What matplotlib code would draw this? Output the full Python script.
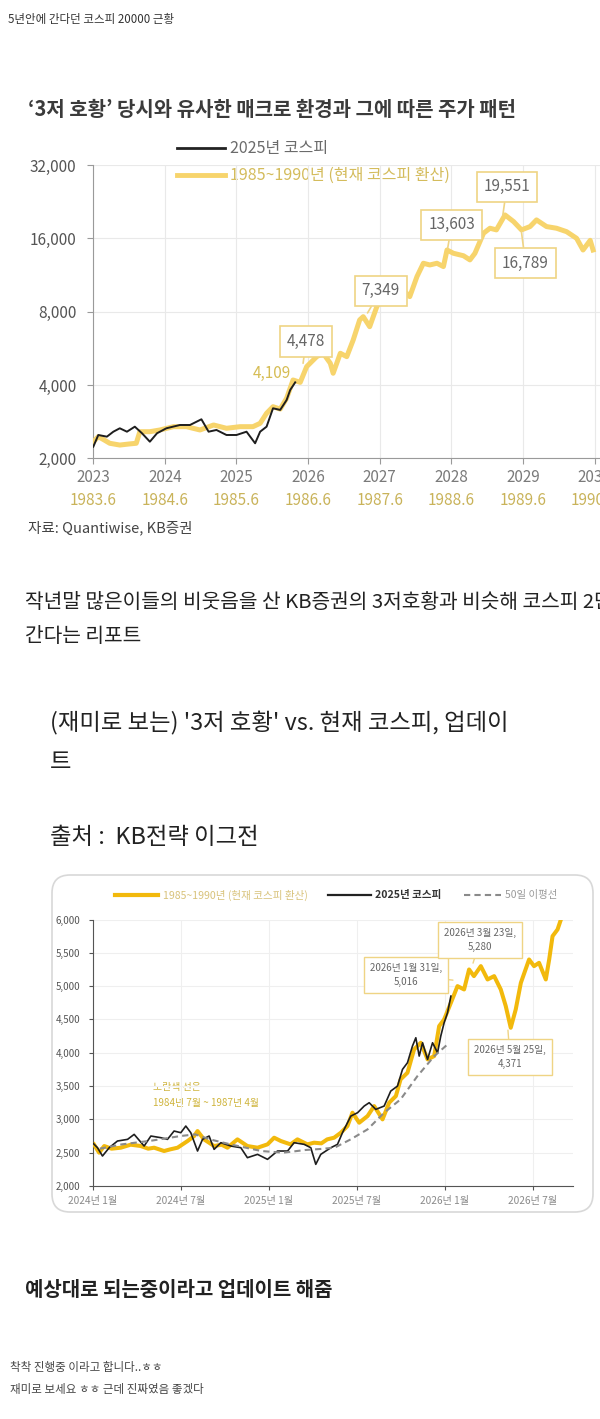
import matplotlib
matplotlib.use("Agg")
import matplotlib.pyplot as plt
from matplotlib.patches import FancyBboxPatch

plt.rcParams['font.family'] = ['Noto Sans CJK KR', 'DejaVu Sans']

W, H = 600, 1419

# ---- chart 1: KB report, log scale, 2023~2030 ----
c1_yellow_x = [2023.00, 2023.07, 2023.15, 2023.23, 2023.37, 2023.50, 2023.60, 2023.65,
               2023.79, 2023.93, 2024.12, 2024.30, 2024.49, 2024.68, 2024.86, 2025.05,
               2025.23, 2025.33, 2025.42, 2025.51, 2025.61, 2025.70, 2025.79, 2025.89,
               2025.98, 2026.12, 2026.21, 2026.31, 2026.35, 2026.45, 2026.54, 2026.63,
               2026.72, 2026.77, 2026.86, 2026.96, 2027.05, 2027.19, 2027.33, 2027.42,
               2027.52, 2027.61, 2027.70, 2027.80, 2027.89, 2027.94, 2028.03, 2028.17,
               2028.26, 2028.33, 2028.45, 2028.54, 2028.63, 2028.75, 2028.87, 2028.98,
               2029.10, 2029.19, 2029.33, 2029.47, 2029.61, 2029.75, 2029.84, 2029.94,
               2029.98]
c1_yellow_y = [2340, 2454, 2380, 2305, 2267, 2290, 2305, 2572,
               2572, 2614, 2697, 2697, 2614, 2740, 2656, 2697,
               2697, 2784, 3061, 3258, 3185, 3528, 4193, 4100,
               4757, 5228, 5398, 4911, 4469, 5398, 5228, 6122,
               7396, 7630, 6940, 8388, 9223, 9821, 9821, 9223,
               11137, 12640, 12440, 12640, 12250, 14330, 13890, 13570,
               13050, 13890, 16790, 17600, 17330, 19960, 18740, 17330,
               17880, 19040, 17880, 17600, 17040, 16000, 14330, 15700,
               14330]
c1_black_x = [2023.00, 2023.07, 2023.19, 2023.28, 2023.37, 2023.47, 2023.58, 2023.68,
              2023.79, 2023.89, 2024.02, 2024.21, 2024.35, 2024.51, 2024.61, 2024.72,
              2024.86, 2025.00, 2025.14, 2025.26, 2025.33, 2025.42, 2025.51, 2025.61,
              2025.70, 2025.75, 2025.82]
c1_black_y = [2232, 2493, 2454, 2572, 2656, 2572, 2697, 2534,
              2340, 2534, 2656, 2740, 2740, 2892, 2572, 2614,
              2493, 2493, 2572, 2305, 2572, 2697, 3209, 3160,
              3470, 3816, 4100]
c1_yticks = [2000, 4000, 8000, 16000, 32000]
c1_xticks = [2023, 2024, 2025, 2026, 2027, 2028, 2029, 2030]
c1_xticks_old = ['1983.6', '1984.6', '1985.6', '1986.6', '1987.6', '1988.6', '1989.6', '1990.6']
c1_ann_labels = ['4,478', '7,349', '13,603', '19,551', '16,789']
c1_ann_x = [2025.93, 2026.83, 2027.95, 2028.72, 2028.98]
c1_ann_y = [4911, 7903, 14610, 19960, 16990]

# ---- chart 2: KB update, linear, months since 2024-01 ----
c2_yellow_m = [0.1, 0.45, 0.8, 1.3, 1.93, 2.6, 3.29, 3.8, 4.2, 4.88, 5.3, 5.8, 6.48, 6.93,
               7.16, 7.6, 8.29, 8.8, 9.2, 9.88, 10.56, 11.25, 11.93, 12.38, 12.84, 13.5,
               13.97, 14.65, 15.1, 15.6, 16.0, 16.47, 16.93, 17.38, 17.72, 18.18, 18.75,
               19.2, 19.77, 20.22, 20.68, 21.0, 21.47, 21.92, 22.38, 22.84, 23.29, 23.63,
               23.97, 24.43, 24.88, 25.33, 25.67, 26.0, 26.47, 26.93, 27.38, 27.83, 28.17,
               28.51, 28.85, 29.2, 29.76, 30.1, 30.44, 30.9, 31.13, 31.36, 31.7, 31.93]
c2_yellow_v = [2625, 2500, 2600, 2560, 2575, 2620, 2600, 2560, 2575, 2525, 2550, 2575, 2675, 2750,
               2825, 2700, 2600, 2620, 2575, 2700, 2600, 2575, 2625, 2725, 2675, 2625,
               2700, 2625, 2650, 2640, 2700, 2725, 2800, 2900, 3100, 2950, 3050,
               3200, 3000, 3250, 3350, 3600, 3700, 4050, 4150, 3900, 3950, 4400,
               4500, 4750, 5000, 4950, 5250, 5150, 5300, 5100, 5150, 4950, 4700,
               4375, 4650, 5050, 5400, 5300, 5350, 5100, 5400, 5750, 5850, 6000]
c2_black_m = [0, 0.34, 0.68, 1.14, 1.7, 2.39, 2.84, 3.52, 3.98, 4.66, 5.11, 5.56, 6.02, 6.36,
              6.7, 7.16, 7.5, 7.95, 8.29, 8.75, 9.43, 10.11, 10.56, 11.25, 11.93, 12.61,
              13.3, 13.74, 14.43, 14.88, 15.22, 15.56, 16.25, 16.7, 17.04, 17.61, 18.07,
              18.52, 18.86, 19.31, 19.88, 20.33, 20.79, 21.13, 21.47, 21.81, 22.04, 22.27,
              22.5, 22.84, 23.18, 23.52, 23.74, 23.97, 24.2, 24.43]
c2_black_v = [2650, 2575, 2450, 2575, 2675, 2700, 2775, 2600, 2750, 2725, 2700, 2825, 2800, 2900,
              2800, 2525, 2700, 2750, 2550, 2650, 2600, 2575, 2425, 2475, 2400, 2525,
              2525, 2650, 2625, 2575, 2325, 2475, 2575, 2625, 2800, 3050, 3100,
              3200, 3250, 3150, 3200, 3425, 3500, 3750, 3850, 4100, 4225, 3950,
              4150, 3900, 4150, 4000, 4250, 4450, 4600, 4850]
c2_ma_m = [0.5, 2, 4, 6, 7, 8, 9.5, 11.5, 13, 14.5, 15.5, 16.5, 17.6, 18.75, 19.88, 21,
           22.15, 23.3, 24.2]
c2_ma_v = [2560, 2625, 2680, 2750, 2775, 2700, 2620, 2525, 2500, 2540, 2555, 2575, 2700,
           2850, 3100, 3300, 3650, 3950, 4125]
c2_yticks = [2000, 2500, 3000, 3500, 4000, 4500, 5000, 5500, 6000]
c2_xticks = [0, 6, 12, 18, 24, 30]
c2_xlabels = ['2024년 1월', '2024년 7월', '2025년 1월', '2025년 7월', '2026년 1월', '2026년 7월']
c2_ann_labels = ['2026년 1월 31일,\n5,016', '2026년 3월 23일,\n5,280', '2026년 5월 25일,\n4,371']
c2_ann_m = [24.57, 25.94, 28.32]
c2_ann_v = [5090, 5345, 4340]

gold1 = '#f7d46c'
gold2 = '#f2b90c'
box_edge = '#efd484'

fig = plt.figure(figsize=(W / 100, H / 100), dpi=100)


def px_axes(left, top, right, bottom):
    return fig.add_axes([left / W, 1 - bottom / H, (right - left) / W, (bottom - top) / H])


# page background in pixel coordinates
bg = px_axes(0, 0, W, H)
bg.set_xlim(0, W)
bg.set_ylim(H, 0)
bg.axis('off')

bg.text(8, 20, '5년안에 간다던 코스피 20000 근황', fontsize=8.3, color='#333333', va='center')
bg.text(28, 110, '‘3저 호황’ 당시와 유사한 매크로 환경과 그에 따른 주가 패턴',
        fontsize=14.4, fontweight='bold', color='#3b3b3b', va='center')

# chart 1 legend
bg.plot([177, 225], [148, 148], color='#222222', lw=2)
bg.text(230, 148, '2025년 코스피', fontsize=11.5, color='#6b6b6b', va='center')
bg.plot([177, 225], [175, 175], color=gold1, lw=3.5)
bg.text(230, 175, '1985~1990년 (현재 코스피 환산)', fontsize=11.5, color='#d4bc5c', va='center')

bg.text(28, 528, '자료: Quantiwise, KB증권', fontsize=10.5, color='#444444', va='center')

bg.text(25, 603, '작년말 많은이들의 비웃음을 산 KB증권의 3저호황과 비슷해 코스피 2만',
        fontsize=14.6, color='#222222', va='center')
bg.text(25, 637, '간다는 리포트', fontsize=14.6, color='#222222', va='center')
bg.text(50, 723, "(재미로 보는) '3저 호황' vs. 현재 코스피, 업데이", fontsize=16.8, color='#222222', va='center')
bg.text(50, 762, '트', fontsize=16.8, color='#222222', va='center')
bg.text(50, 838, '출처 :  KB전략 이그전', fontsize=16.8, color='#222222', va='center')

# card around chart 2
card = FancyBboxPatch((52, 875), 541, 337, boxstyle='round,pad=0,rounding_size=18',
                      fc='white', ec='#d8d8d8', lw=1.2)
bg.add_patch(card)

# chart 2 legend
bg.plot([115, 158], [895, 895], color=gold2, lw=3)
bg.text(163, 895, '1985~1990년 (현재 코스피 환산)', fontsize=7.6, color='#d8c27a', va='center')
bg.plot([328, 371], [895, 895], color='#222222', lw=1.6)
bg.text(375, 895, '2025년 코스피', fontsize=7.6, fontweight='bold', color='#333333', va='center')
bg.plot([464, 501], [895, 895], color='#8a8a8a', lw=1.5, ls=(0, (3, 2)))
bg.text(505, 895, '50일 이평선', fontsize=7.5, color='#9a9a9a', va='center')

bg.text(153, 1087, '노란색 선은', fontsize=7.1, color='#cfb43c', va='center')
bg.text(153, 1103, '1984년 7월 ~ 1987년 4월', fontsize=7.1, color='#cfb43c', va='center')

bg.text(25, 1290, '예상대로 되는중이라고 업데이트 해줌', fontsize=14.4, fontweight='bold',
        color='#222222', va='center')
bg.text(10, 1368, '착착 진행중 이라고 합니다..ㅎㅎ', fontsize=8.3, color='#444444', va='center')
bg.text(10, 1390, '재미로 보세요 ㅎㅎ 근데 진짜였음 좋겠다', fontsize=8.3, color='#444444', va='center')

# ---- chart 1 ----
ax1 = px_axes(93.3, 165, 600, 458.3)
ax1.set_facecolor('none')
ax1.set_yscale('log', base=2)
ax1.set_ylim(2000, 32000)
ax1.set_xlim(2023, 2023 + (600 - 93.3) / 71.6)
ax1.plot(c1_yellow_x, c1_yellow_y, color=gold1, lw=3.6, solid_joinstyle='round', zorder=3)
ax1.plot(c1_black_x, c1_black_y, color='#1e1e1e', lw=1.4, zorder=4)
ax1.set_yticks(c1_yticks)
ax1.set_yticklabels([f'{v:,}' for v in c1_yticks])
ax1.minorticks_off()
ax1.set_xticks(c1_xticks)
ax1.set_xticklabels([str(y) for y in c1_xticks])
ax1.grid(color='#e9e9e9', lw=0.8)
ax1.set_axisbelow(True)
for s in ['top', 'right']:
    ax1.spines[s].set_visible(False)
for s in ['left', 'bottom']:
    ax1.spines[s].set_color('#9a9a9a')
ax1.tick_params(axis='y', length=4, color='#9a9a9a', labelsize=11, labelcolor='#555555', pad=8)
ax1.tick_params(axis='x', length=4, color='#9a9a9a', labelsize=11, labelcolor='#7a7a7a', pad=4)
row2 = -(500 - 458.3) / (458.3 - 165)
for yr, lab in zip(c1_xticks, c1_xticks_old):
    ax1.text(yr, row2, lab, transform=ax1.get_xaxis_transform(), ha='center', va='center',
             fontsize=11, color='#c9b35a', clip_on=False)

ax1.annotate('4,109', xy=(c1_black_x[-1], c1_black_y[-1]), xytext=(-23, 9),
             textcoords='offset pixels', ha='center', va='center', fontsize=11, color='#d6bd55')
c1_offsets = [(3, 22), (13, 22), (4, 23), (4, 28), (4, -31)]
for lab, x, y, off in zip(c1_ann_labels, c1_ann_x, c1_ann_y, c1_offsets):
    ax1.annotate(lab, xy=(x, y), xytext=off, textcoords='offset pixels', ha='center', va='center',
                 fontsize=11, color='#666666', zorder=6,
                 bbox=dict(boxstyle='square,pad=0.45', fc='white', ec=box_edge, lw=1.2),
                 arrowprops=dict(arrowstyle='-', color=box_edge, lw=1.2, shrinkA=0, shrinkB=0))

# ---- chart 2 ----
ax2 = px_axes(92.5, 919.5, 573, 1186)
ax2.set_facecolor('none')
ax2.set_xlim(0, (573 - 92.5) / 14.67)
ax2.set_ylim(2000, 6000)
ax2.plot(c2_yellow_m, c2_yellow_v, color=gold2, lw=2.9, solid_joinstyle='round', zorder=3)
ax2.plot(c2_black_m, c2_black_v, color='#1e1e1e', lw=1.2, zorder=4)
ax2.plot(c2_ma_m, c2_ma_v, color='#8a8a8a', lw=1.5, ls=(0, (3, 2)), zorder=5)
ax2.set_yticks(c2_yticks)
ax2.set_yticklabels([f'{v:,}' for v in c2_yticks])
ax2.set_xticks(c2_xticks)
ax2.set_xticklabels(c2_xlabels)
ax2.grid(color='#efefef', lw=0.8)
ax2.set_axisbelow(True)
for s in ['top', 'right']:
    ax2.spines[s].set_visible(False)
for s in ['left', 'bottom']:
    ax2.spines[s].set_color('#555555')
ax2.tick_params(axis='y', length=3, color='#555555', labelsize=7, labelcolor='#555555', pad=6)
ax2.tick_params(axis='x', length=3, color='#555555', labelsize=7.3, labelcolor='#8a8a8a', pad=4)

c2_offsets = [(-47, 5), (7, 23), (2, -27)]
for lab, m, v, off in zip(c2_ann_labels, c2_ann_m, c2_ann_v, c2_offsets):
    ax2.annotate(lab, xy=(m, v), xytext=off, textcoords='offset pixels', ha='center', va='center',
                 fontsize=7, color='#666666', linespacing=1.5, zorder=6,
                 bbox=dict(boxstyle='square,pad=0.6', fc='white', ec=box_edge, lw=1),
                 arrowprops=dict(arrowstyle='-', color=box_edge, lw=1, shrinkA=0, shrinkB=0))

fig.savefig('out.png', dpi=100, facecolor='white')
